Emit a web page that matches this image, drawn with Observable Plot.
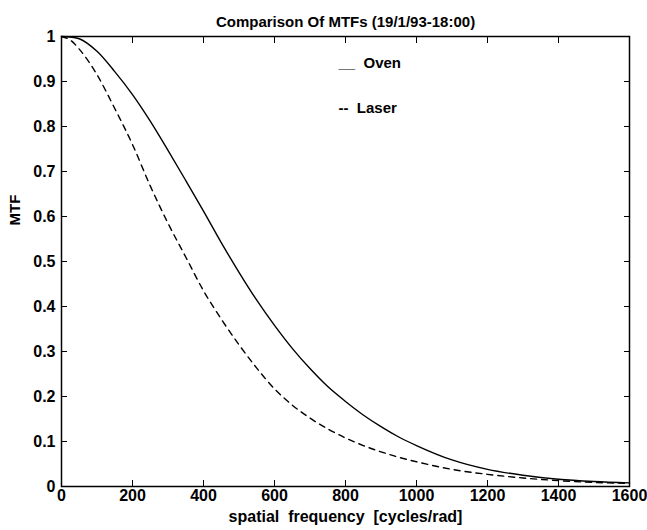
<!DOCTYPE html>
<html><head><meta charset="utf-8">
<script src="https://cdn.jsdelivr.net/npm/d3@7"></script>
<script src="https://cdn.jsdelivr.net/npm/@observablehq/plot@0.6"></script>
<style>body{margin:0;background:#fff}</style>
</head><body><div id="chart"></div>
<script>
const titleText = "Comparison Of MTFs (19/1/93-18:00)";
const xLabel = "spatial  frequency  [cycles/rad]";
const yLabel = "MTF";
const seriesNames = ["Oven", "Laser"];
const freq = [0, 25, 50, 100, 150, 200, 250, 300, 350, 400, 450, 500, 550, 600, 650, 700, 750, 800, 850, 900, 950, 1000, 1100, 1200, 1300, 1400, 1500, 1600];
const oven = [1.0, 0.999, 0.995, 0.967, 0.922, 0.871, 0.812, 0.747, 0.68, 0.612, 0.542, 0.476, 0.414, 0.358, 0.307, 0.262, 0.222, 0.189, 0.159, 0.133, 0.11, 0.091, 0.059, 0.038, 0.025, 0.016, 0.011, 0.008];
const laser = [1.0, 0.992, 0.972, 0.915, 0.84, 0.76, 0.668, 0.585, 0.51, 0.435, 0.372, 0.315, 0.263, 0.217, 0.181, 0.152, 0.128, 0.108, 0.091, 0.077, 0.065, 0.055, 0.038, 0.027, 0.019, 0.013, 0.009, 0.007];
const xTicks = [0, 200, 400, 600, 800, 1000, 1200, 1400, 1600];
const yTicks = [0, 0.1, 0.2, 0.3, 0.4, 0.5, 0.6, 0.7, 0.8, 0.9, 1];

const rows = [];
freq.forEach((f, i) => {
  rows.push({f, v: oven[i], s: seriesNames[0]});
  rows.push({f, v: laser[i], s: seriesNames[1]});
});

const font = "'Liberation Sans', Arial, Helvetica, sans-serif";
const chart = Plot.plot({
  width: 647,
  height: 530,
  marginLeft: 61,
  marginRight: 18,
  marginTop: 36,
  marginBottom: 44,
  style: {fontFamily: font, fontSize: "15px", fontWeight: "bold", color: "#000", background: "#fff"},
  x: {domain: [0, 1600]},
  y: {domain: [0, 1]},
  marks: [
    Plot.line(rows.filter(d => d.s === seriesNames[0]), {x: "f", y: "v", stroke: "#000", strokeWidth: 1.4, curve: "monotone-x"}),
    Plot.line(rows.filter(d => d.s === seriesNames[1]), {x: "f", y: "v", stroke: "#000", strokeWidth: 1.4, strokeDasharray: "6,5", curve: "monotone-x"}),
    Plot.axisX(xTicks, {anchor: "bottom", tickSize: -6, tickPadding: 9, tickFormat: d => String(d), label: null, fontSize: 16, fontWeight: "bold"}),
    Plot.axisX(xTicks, {anchor: "top", tickSize: -6, tickFormat: () => "", label: null}),
    Plot.axisY(yTicks, {anchor: "left", tickSize: -6, tickPadding: 12, tickFormat: d => String(d), label: null, fontSize: 16, fontWeight: "bold"}),
    Plot.axisY(yTicks, {anchor: "right", tickSize: -6, tickFormat: () => "", label: null}),
    Plot.frame({stroke: "#000", strokeWidth: 1.5}),
    Plot.text([titleText], {text: d => d, frameAnchor: "top", dy: -20, fontSize: 15, fontWeight: "bold"}),
    Plot.text([xLabel], {text: d => d, frameAnchor: "bottom", dy: 35, fontSize: 16, fontWeight: "bold"}),
    Plot.text([yLabel], {text: d => d, frameAnchor: "left", rotate: -90, dx: -46, dy: -36, fontSize: 15, fontWeight: "bold"}),
    Plot.text(["__  " + seriesNames[0]], {text: d => d, frameAnchor: "top-left", textAnchor: "start", dx: 277, dy: 21, fontSize: 15, fontWeight: "bold"}),
    Plot.text(["--  " + seriesNames[1]], {text: d => d, frameAnchor: "top-left", textAnchor: "start", dx: 277, dy: 66, fontSize: 15, fontWeight: "bold"})
  ]
});
document.getElementById("chart").appendChild(chart);
</script>
</body></html>
